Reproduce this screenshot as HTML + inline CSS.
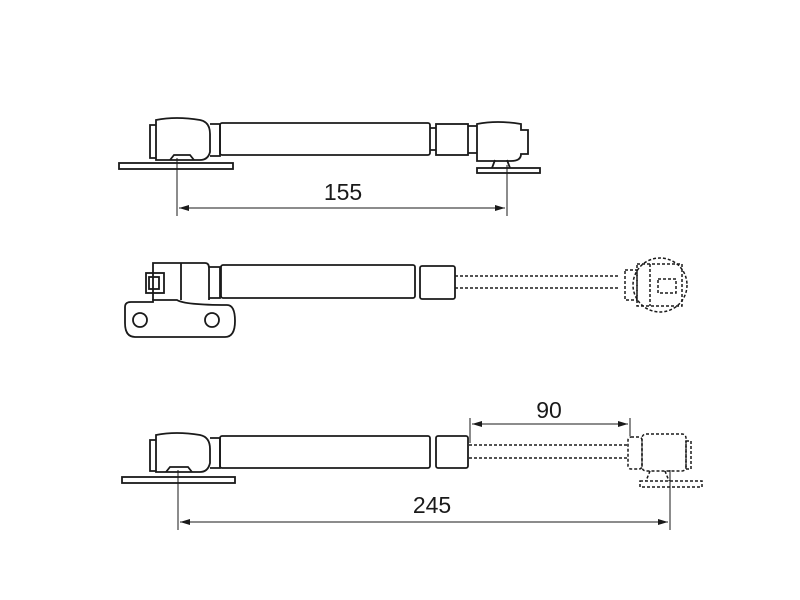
<!DOCTYPE html>
<html><head><style>body{margin:0;background:#fff}svg{display:block}</style></head><body>
<svg width="800" height="600" viewBox="0 0 800 600" xmlns="http://www.w3.org/2000/svg" fill="none" stroke="#1a1a1a" stroke-width="1.8" font-family="Liberation Sans, sans-serif">
<defs><marker id="a" viewBox="0 0 10 6" refX="10" refY="3" markerWidth="10" markerHeight="6" orient="auto-start-reverse" markerUnits="userSpaceOnUse"><path d="M0,0L10,3L0,6z" fill="#1a1a1a" stroke="none"/></marker></defs>
<!-- Drawing 1 -->
<rect x="119" y="163" width="114" height="6" />
<path d="M150,125h6v33h-6z M156,120 q20,-4 44,0 q10,2 10,14 v18 q-2,8 -10,8 h-44z M210,124 h10 v32 h-10"/>
<path d="M170,160 l4,-5 h16 l4,5"/>
<rect x="220" y="123" width="210" height="32" rx="2"/>
<rect x="436" y="124" width="32" height="31"/>
<path d="M430,128h6 M430,150h6 M468,126h9 M468,153h9"/>
<path d="M477,124 q20,-4 44,0 v6 h7 v24 h-7 q0,7 -10,7 h-34z"/>
<path d="M495,160 l-3,8 M507,160 l3,8"/>
<rect x="477" y="168" width="63" height="5"/>
<line x1="177" y1="158" x2="177" y2="216" stroke-width="1"/>
<line x1="507" y1="165" x2="507" y2="216" stroke-width="1"/>
<line x1="179" y1="208" x2="505" y2="208" stroke-width="1" marker-start="url(#a)" marker-end="url(#a)"/>
<text x="343" y="200" font-size="23" text-anchor="middle" fill="#1a1a1a" stroke="none">155</text>
<!-- Drawing 2 -->
<path d="M125,307 q0,-5 6,-5 h22 v-2 h24 q8,5 50,5 q8,0 8,16 q0,16 -10,16 h-90 q-10,0 -10,-14z"/>
<circle cx="140" cy="320" r="7"/><circle cx="212" cy="320" r="7"/>
<path d="M153,300 v-37 h52 q4,0 4,5 v32"/>
<rect x="146" y="273" width="18" height="20"/><rect x="149" y="277" width="10" height="12"/>
<path d="M181,263 v37 M209,267 h11 v31 h-11"/>
<rect x="221" y="265" width="194" height="33" rx="2"/>
<rect x="420" y="266" width="35" height="33" rx="2"/>
<g stroke-dasharray="3,2" stroke-width="1.5">
<path d="M455,276 h165 M455,288 h165"/>
<circle cx="660" cy="285" r="27"/>
<rect x="625" y="270" width="12" height="30"/>
<rect x="637" y="264" width="45" height="42"/>
<rect x="658" y="279" width="18" height="14"/>
<path d="M650,264v42"/>
</g>
<!-- Drawing 3 -->
<rect x="122" y="477" width="113" height="6"/>
<path d="M150,440h6v31h-6z M156,435 q20,-4 44,0 q10,2 10,14 v14 q-2,9 -10,9 h-44z M210,438 h10 v30 h-10"/>
<path d="M166,472 l4,-5 h18 l4,5"/>
<rect x="220" y="436" width="210" height="32" rx="2"/>
<rect x="436" y="436" width="32" height="32" rx="2"/>
<g stroke-dasharray="3,2" stroke-width="1.5">
<path d="M469,445 h160 M469,458 h160"/>
<rect x="628" y="437" width="14" height="32" rx="3"/>
<rect x="642" y="434" width="44" height="37" rx="4"/>
<rect x="686" y="441" width="5" height="28"/>
<path d="M650,471 l-4,10 M665,471 l4,10"/>
<rect x="640" y="481" width="62" height="6"/>
</g>
<line x1="470" y1="418" x2="470" y2="443" stroke-width="1"/>
<line x1="630" y1="418" x2="630" y2="436" stroke-width="1"/>
<line x1="472" y1="424" x2="628" y2="424" stroke-width="1" marker-start="url(#a)" marker-end="url(#a)"/>
<text x="549" y="418" font-size="23" text-anchor="middle" fill="#1a1a1a" stroke="none">90</text>
<line x1="178" y1="470" x2="178" y2="530" stroke-width="1"/>
<line x1="670" y1="470" x2="670" y2="530" stroke-width="1"/>
<line x1="180" y1="522" x2="668" y2="522" stroke-width="1" marker-start="url(#a)" marker-end="url(#a)"/>
<text x="432" y="513" font-size="23" text-anchor="middle" fill="#1a1a1a" stroke="none">245</text>
</svg>
</body></html>
